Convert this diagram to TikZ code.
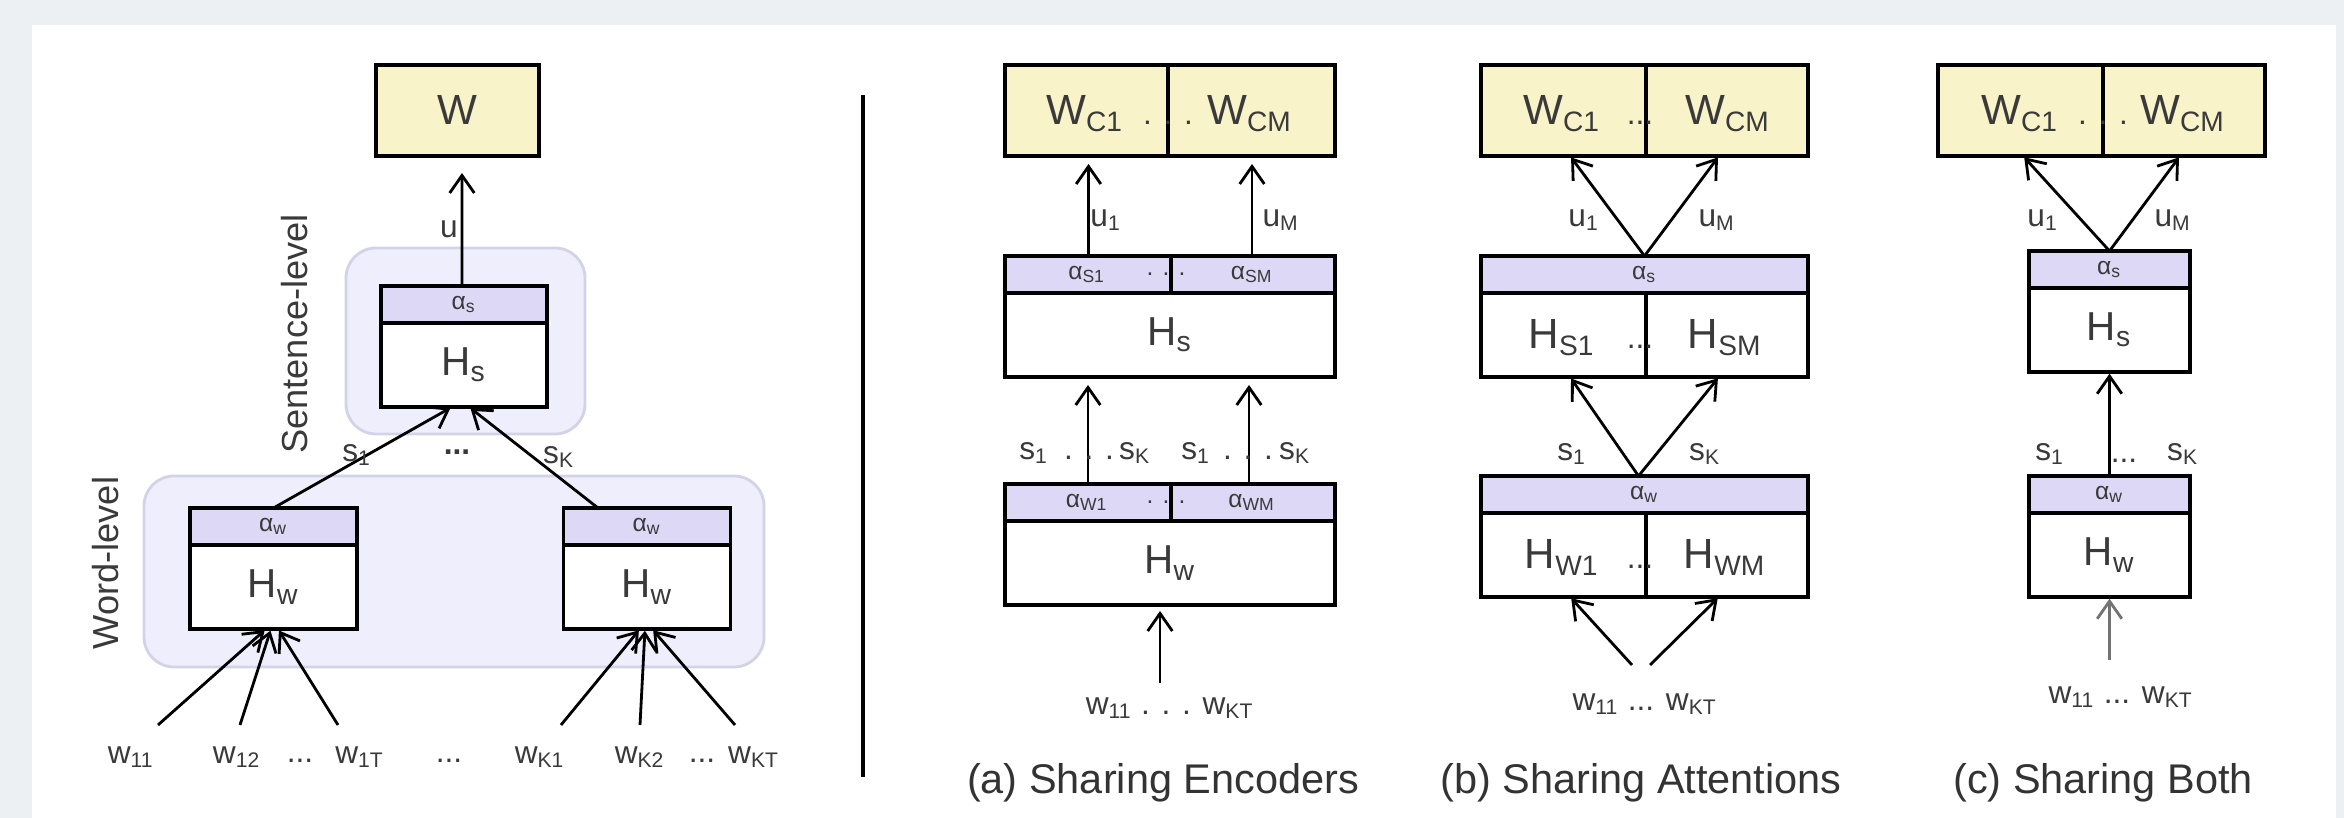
\documentclass[tikz,border=0pt]{standalone}
\usepackage{fontspec}
\setmainfont{Liberation Sans}
\usetikzlibrary{positioning,arrows.meta}

\definecolor{pagegrey}{HTML}{ECF0F3}
\definecolor{wyellow}{HTML}{F8F3C9}
\definecolor{attnfill}{HTML}{DCD8F5}
\definecolor{grpfill}{HTML}{EFEEFD}
\definecolor{grpline}{HTML}{D4D2E6}
\definecolor{txtgrey}{HTML}{3A3A3A}

\newcommand{\sbs}[1]{\textsubscript{#1}}

\tikzset{
  wbox/.style={draw,line width=1.1pt,fill=wyellow,minimum height=0.91cm,inner sep=0pt,outer sep=0pt,
    font=\fontsize{12}{14}\selectfont,text=txtgrey},
  attn/.style={draw,line width=1.1pt,fill=attnfill,minimum height=0.37cm,inner sep=0pt,outer sep=0pt,
    font=\fontsize{7}{8}\selectfont,text=txtgrey},
  enc/.style={draw,line width=1.1pt,fill=white,minimum height=0.84cm,inner sep=0pt,outer sep=0pt,
    font=\fontsize{11.5}{13}\selectfont,text=txtgrey},
  grp/.style={draw=grpline,line width=0.8pt,fill=grpfill,rounded corners=0.3cm,inner sep=0pt},
  big/.style={font=\fontsize{12}{14}\selectfont,text=txtgrey,inner sep=0pt,anchor=base},
  lbl/.style={font=\fontsize{9}{10}\selectfont,text=txtgrey,inner sep=0pt},
  attnlbl/.style={font=\fontsize{7}{8}\selectfont,text=txtgrey,inner sep=0pt},
  subcap/.style={font=\fontsize{11.8}{14}\selectfont,text=black!80,inner sep=0pt},
  levlbl/.style={font=\fontsize{10.3}{12}\selectfont,text=txtgrey,inner sep=0pt,rotate=90},
  arr/.style={-{Straight Barb[length=5pt,width=7pt]},line width=0.8pt,shorten >=0.5pt},
  divline/.style={line width=1pt},
}

\begin{document}
\begin{tikzpicture}
\useasboundingbox (0,0) rectangle (23.44,8.18);
\fill[pagegrey] (0,0) rectangle (23.44,8.18);
\fill[white] (0.32,0) rectangle (23.36,7.93);

% hierarchical model
\node[grp,minimum width=6.20cm,minimum height=1.91cm] (l-wgrp) at (4.54,2.465) {};
\node[grp,minimum width=2.39cm,minimum height=1.86cm] (l-sgrp) at (4.655,4.77) {};
\node[levlbl] (l-slev) at (2.95,4.84) {Sentence-level};
\node[levlbl] (l-wlev) at (1.06,2.55) {Word-level};

\node[wbox,minimum width=1.63cm] (l-w) at (4.575,7.075) {W};
\node[attn,minimum width=1.66cm,anchor=north] (l-hsa) at (4.64,5.32) {α\sbs{s}};
\node[enc,minimum width=1.66cm,below=0pt of l-hsa] (l-hs) {H\sbs{s}};
\node[attn,minimum width=1.67cm,anchor=north] (l-hwa1) at (2.735,3.10) {α\sbs{w}};
\node[enc,minimum width=1.67cm,below=0pt of l-hwa1] (l-hw1) {H\sbs{w}};
\node[attn,minimum width=1.67cm,anchor=north] (l-hwa2) at (6.47,3.10) {α\sbs{w}};
\node[enc,minimum width=1.67cm,below=0pt of l-hwa2] (l-hw2) {H\sbs{w}};

\draw[arr,shorten >=0.17cm] ([xshift=-0.02cm]l-hsa.north) -- ([xshift=0.045cm]l-w.south);
\node[lbl] (l-u) at (4.49,5.89) {u};

\draw[arr] (l-hwa1.north) -- ([xshift=-0.12cm]l-hs.south);
\draw[arr] ([xshift=-0.49cm]l-hwa2.north) -- ([xshift=0.05cm]l-hs.south);
\node[lbl] (l-s1) at (3.57,3.63) {s\sbs{1}};
\node[lbl] (l-sd) at (4.57,3.66) {\textbf{...}};
\node[lbl] (l-sk) at (5.59,3.61) {s\sbs{K}};

\node[lbl] (l-w11) at (1.31,0.61) {w\sbs{11}};
\node[lbl] (l-w12) at (2.37,0.61) {w\sbs{12}};
\node[lbl] (l-wd1) at (3.00,0.57) {...};
\node[lbl] (l-w1t) at (3.60,0.61) {w\sbs{1T}};
\node[lbl] (l-wd2) at (4.49,0.57) {...};
\node[lbl] (l-wk1) at (5.40,0.61) {w\sbs{K1}};
\node[lbl] (l-wk2) at (6.40,0.61) {w\sbs{K2}};
\node[lbl] (l-wd3) at (7.02,0.57) {...};
\node[lbl] (l-wkt) at (7.54,0.61) {w\sbs{KT}};

\coordinate (l-in1) at (1.58,0.93);
\coordinate (l-in2) at (2.40,0.93);
\coordinate (l-in3) at (3.38,0.93);
\coordinate (l-in4) at (5.61,0.93);
\coordinate (l-in5) at (6.40,0.93);
\coordinate (l-in6) at (7.35,0.93);
\draw[arr] (l-in1) -- ([xshift=-0.075cm]l-hw1.south);
\draw[arr] (l-in2) -- ([xshift=-0.025cm]l-hw1.south);
\draw[arr] (l-in3) -- ([xshift=0.045cm]l-hw1.south);
\draw[arr] (l-in4) -- ([xshift=-0.07cm]l-hw2.south);
\draw[arr] (l-in5) -- ([xshift=-0.02cm]l-hw2.south);
\draw[arr] (l-in6) -- ([xshift=0.05cm]l-hw2.south);

\draw[line width=1.2pt] (8.63,0.41) -- (8.63,7.23);

% (a) sharing encoders
\node[wbox,minimum width=3.30cm] (a-w) at (11.70,7.075) {};
\draw[divline] ([xshift=-0.02cm]a-w.north) -- ([xshift=-0.02cm]a-w.south);
\node[big] (a-wc1) at (10.85,6.93) {W\sbs{C1}};
\node[big] (a-wcm) at (12.50,6.93) {W\sbs{CM}};
\node[lbl,anchor=base] (a-wd) at (11.68,6.93) {. . .};

\node[attn,minimum width=3.30cm,anchor=north] (a-hsa) at (11.70,5.62) {};
\node[enc,minimum width=3.30cm,below=0pt of a-hsa] (a-hs) {H\sbs{s}};
\draw[divline] ([xshift=0.01cm]a-hsa.north) -- ([xshift=0.01cm]a-hsa.south);
\node[attnlbl] (a-as1) at (10.87,5.435) {α\sbs{S1}};
\node[attnlbl] (a-asm) at (12.52,5.435) {α\sbs{SM}};
\node[attnlbl] (a-asd) at (11.66,5.435) {. . .};

\node[attn,minimum width=3.30cm,anchor=north] (a-hwa) at (11.70,3.34) {};
\node[enc,minimum width=3.30cm,below=0pt of a-hwa] (a-hw) {H\sbs{w}};
\draw[divline] ([xshift=0.01cm]a-hwa.north) -- ([xshift=0.01cm]a-hwa.south);
\node[attnlbl] (a-aw1) at (10.87,3.155) {α\sbs{W1}};
\node[attnlbl] (a-awm) at (12.52,3.155) {α\sbs{WM}};
\node[attnlbl] (a-awd) at (11.66,3.155) {. . .};

\draw[arr,shorten >=0.08cm] ([xshift=-0.815cm]a-hsa.north) -- ([xshift=-0.815cm]a-w.south);
\draw[arr,shorten >=0.08cm] ([xshift=0.82cm]a-hsa.north) -- ([xshift=0.82cm]a-w.south);
\node[lbl] (a-u1) at (11.06,5.98) {u\sbs{1}};
\node[lbl] (a-um) at (12.81,5.98) {u\sbs{M}};

\draw[arr,shorten >=0.08cm] ([xshift=-0.82cm]a-hwa.north) -- ([xshift=-0.82cm]a-hs.south);
\draw[arr,shorten >=0.08cm] ([xshift=0.79cm]a-hwa.north) -- ([xshift=0.79cm]a-hs.south);
\node[lbl] (a-s1) at (10.34,3.65) {s\sbs{1}};
\node[lbl] (a-sd1) at (10.89,3.60) {. . .};
\node[lbl] (a-sk) at (11.35,3.65) {s\sbs{K}};
\node[lbl] (a-s1b) at (11.96,3.65) {s\sbs{1}};
\node[lbl] (a-sd2) at (12.48,3.60) {. . .};
\node[lbl] (a-skb) at (12.95,3.65) {s\sbs{K}};

\coordinate (a-in) at (11.60,1.35);
\draw[arr,shorten >=0.06cm] (a-in) -- (a-in |- a-hw.south);
\node[lbl] (a-wl) at (11.70,1.10) {w\sbs{11} . . . w\sbs{KT}};
\node[subcap] (a-cap) at (11.63,0.35) {(a) Sharing Encoders};

% (b) sharing attentions
\node[wbox,minimum width=3.27cm] (b-w) at (16.445,7.075) {};
\draw[divline] ([xshift=0.015cm]b-w.north) -- ([xshift=0.015cm]b-w.south);
\node[big] (b-wc1) at (15.62,6.93) {W\sbs{C1}};
\node[big] (b-wcm) at (17.28,6.93) {W\sbs{CM}};
\node[lbl,anchor=base] (b-wd) at (16.40,6.93) {...};

\node[attn,minimum width=3.27cm,anchor=north] (b-hsa) at (16.445,5.62) {α\sbs{s}};
\node[enc,minimum width=3.27cm,below=0pt of b-hsa] (b-hs) {};
\draw[divline] ([xshift=0.015cm]b-hs.north) -- ([xshift=0.015cm]b-hs.south);
\node[big] (b-hs1) at (15.62,4.69) {H\sbs{S1}};
\node[big] (b-hsm) at (17.25,4.69) {H\sbs{SM}};
\node[lbl,anchor=base] (b-hsd) at (16.40,4.69) {...};

\node[attn,minimum width=3.27cm,anchor=north] (b-hwa) at (16.445,3.42) {α\sbs{w}};
\node[enc,minimum width=3.27cm,below=0pt of b-hwa] (b-hw) {};
\draw[divline] ([xshift=0.015cm]b-hw.north) -- ([xshift=0.015cm]b-hw.south);
\node[big] (b-hw1) at (15.62,2.49) {H\sbs{W1}};
\node[big] (b-hwm) at (17.25,2.49) {H\sbs{WM}};
\node[lbl,anchor=base] (b-hwd) at (16.40,2.49) {...};

\draw[arr] (b-hsa.north) -- ([xshift=-0.745cm]b-w.south);
\draw[arr] (b-hsa.north) -- ([xshift=0.745cm]b-w.south);
\node[lbl] (b-u1) at (15.84,5.98) {u\sbs{1}};
\node[lbl] (b-um) at (17.17,5.98) {u\sbs{M}};

\draw[arr] ([xshift=-0.06cm]b-hwa.north) -- ([xshift=-0.745cm]b-hs.south);
\draw[arr] ([xshift=-0.06cm]b-hwa.north) -- ([xshift=0.745cm]b-hs.south);
\node[lbl] (b-s1) at (15.72,3.64) {s\sbs{1}};
\node[lbl] (b-sk) at (17.05,3.64) {s\sbs{K}};

\coordinate (b-in1) at (16.32,1.53);
\coordinate (b-in2) at (16.50,1.53);
\draw[arr] (b-in1) -- ([xshift=-0.745cm]b-hw.south);
\draw[arr] (b-in2) -- ([xshift=0.745cm]b-hw.south);
\node[lbl] (b-wl) at (16.45,1.14) {w\sbs{11} ... w\sbs{KT}};
\node[subcap] (b-cap) at (16.41,0.35) {(b) Sharing Attentions};

% (c) sharing both
\node[wbox,minimum width=3.27cm] (c-w) at (21.015,7.075) {};
\draw[divline] ([xshift=0.015cm]c-w.north) -- ([xshift=0.015cm]c-w.south);
\node[big] (c-wc1) at (20.20,6.93) {W\sbs{C1}};
\node[big] (c-wcm) at (21.83,6.93) {W\sbs{CM}};
\node[lbl,anchor=base] (c-wd) at (21.03,6.93) {. . .};

\node[attn,minimum width=1.61cm,anchor=north] (c-hsa) at (21.095,5.67) {α\sbs{s}};
\node[enc,minimum width=1.61cm,below=0pt of c-hsa] (c-hs) {H\sbs{s}};
\node[attn,minimum width=1.61cm,anchor=north] (c-hwa) at (21.095,3.42) {α\sbs{w}};
\node[enc,minimum width=1.61cm,below=0pt of c-hwa] (c-hw) {H\sbs{w}};

\draw[arr] (c-hsa.north) -- ([xshift=-0.785cm]c-w.south);
\draw[arr] (c-hsa.north) -- ([xshift=0.785cm]c-w.south);
\node[lbl] (c-u1) at (20.43,5.98) {u\sbs{1}};
\node[lbl] (c-um) at (21.73,5.98) {u\sbs{M}};

\draw[arr] (c-hwa.north) -- (c-hs.south);
\node[lbl] (c-s1) at (20.50,3.64) {s\sbs{1}};
\node[lbl] (c-sd) at (21.24,3.57) {...};
\node[lbl] (c-sk) at (21.83,3.64) {s\sbs{K}};

\coordinate (c-in) at (21.095,1.58);
\draw[arr,draw=black!55] (c-in) -- (c-hw.south);
\node[lbl] (c-wl) at (21.21,1.21) {w\sbs{11} ... w\sbs{KT}};
\node[subcap] (c-cap) at (21.03,0.35) {(c) Sharing Both};
\end{tikzpicture}
\end{document}
